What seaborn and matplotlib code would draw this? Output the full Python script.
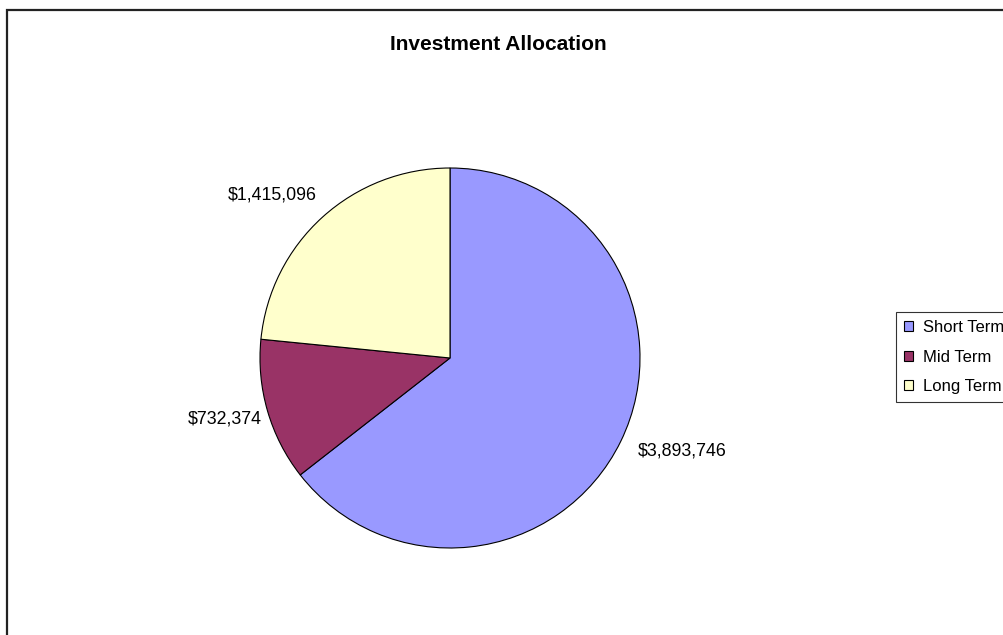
import numpy as np
import matplotlib
matplotlib.use("Agg")
import matplotlib.pyplot as plt
import seaborn as sns
from matplotlib.patches import Rectangle

# data
categories = ["Short Term", "Mid Term", "Long Term"]
amounts = [3893746, 732374, 1415096]
colors = ["#9999FF", "#993366", "#FFFFCC"]

sns.set_theme(style="white")
plt.rcParams['font.family'] = ['Liberation Sans', 'DejaVu Sans']
plt.rcParams['text.color'] = 'black'

fig = plt.figure(figsize=(10.04, 6.35), dpi=100)
W, H = 1004, 635

# pie centre ~ (450, 358) px, radius ~190 px
cx, cy, r = 450, 358, 190
lim = 1.2
side = 2 * lim * r
ax = fig.add_axes([(cx - side / 2) / W, (H - cy - side / 2) / H, side / W, side / H])

wedges, _ = ax.pie(amounts, colors=colors, startangle=90, counterclock=False,
                   wedgeprops=dict(edgecolor="black", linewidth=0.8))

# data labels: anchored on the rim at each wedge's mid angle, nudged like Excel does
nudge = {"Short Term": (17, -10), "Mid Term": (-6, -8), "Long Term": (-6, 22)}
for w, cat, v in zip(wedges, categories, amounts):
    ang = np.deg2rad((w.theta1 + w.theta2) / 2)
    x, y = np.cos(ang), np.sin(ang)
    ax.annotate("${:,.0f}".format(v), (x, y), xytext=nudge[cat],
                textcoords="offset pixels", ha="left" if x > 0 else "right",
                va="center", fontsize=12.8, color="black")

ax.set_xlim(-lim, lim)
ax.set_ylim(-lim, lim)
ax.set_aspect("equal")
ax.axis("off")

fig.text(498 / W, 1 - 44 / H, "Investment Allocation", ha="center", va="center",
         fontsize=15, fontweight="bold", color="black")

leg = fig.legend(wedges, categories, loc="upper left",
                 bbox_to_anchor=(896 / W, 1 - 312 / H), frameon=True,
                 fancybox=False, shadow=False, fontsize=12, labelcolor="black",
                 handlelength=0.55, handleheight=0.55, handletextpad=0.6,
                 labelspacing=0.85, borderpad=0.5, borderaxespad=0)
leg.get_frame().set_edgecolor("black")
leg.get_frame().set_linewidth(0.8)

# chart area border (extends past right/bottom of the image)
fig.add_artist(Rectangle((7 / W, -0.2), 1.3, 1.2 - 10 / H, transform=fig.transFigure,
                         fill=False, edgecolor="#222222", linewidth=1.6))

fig.savefig("out.png", dpi=100)
